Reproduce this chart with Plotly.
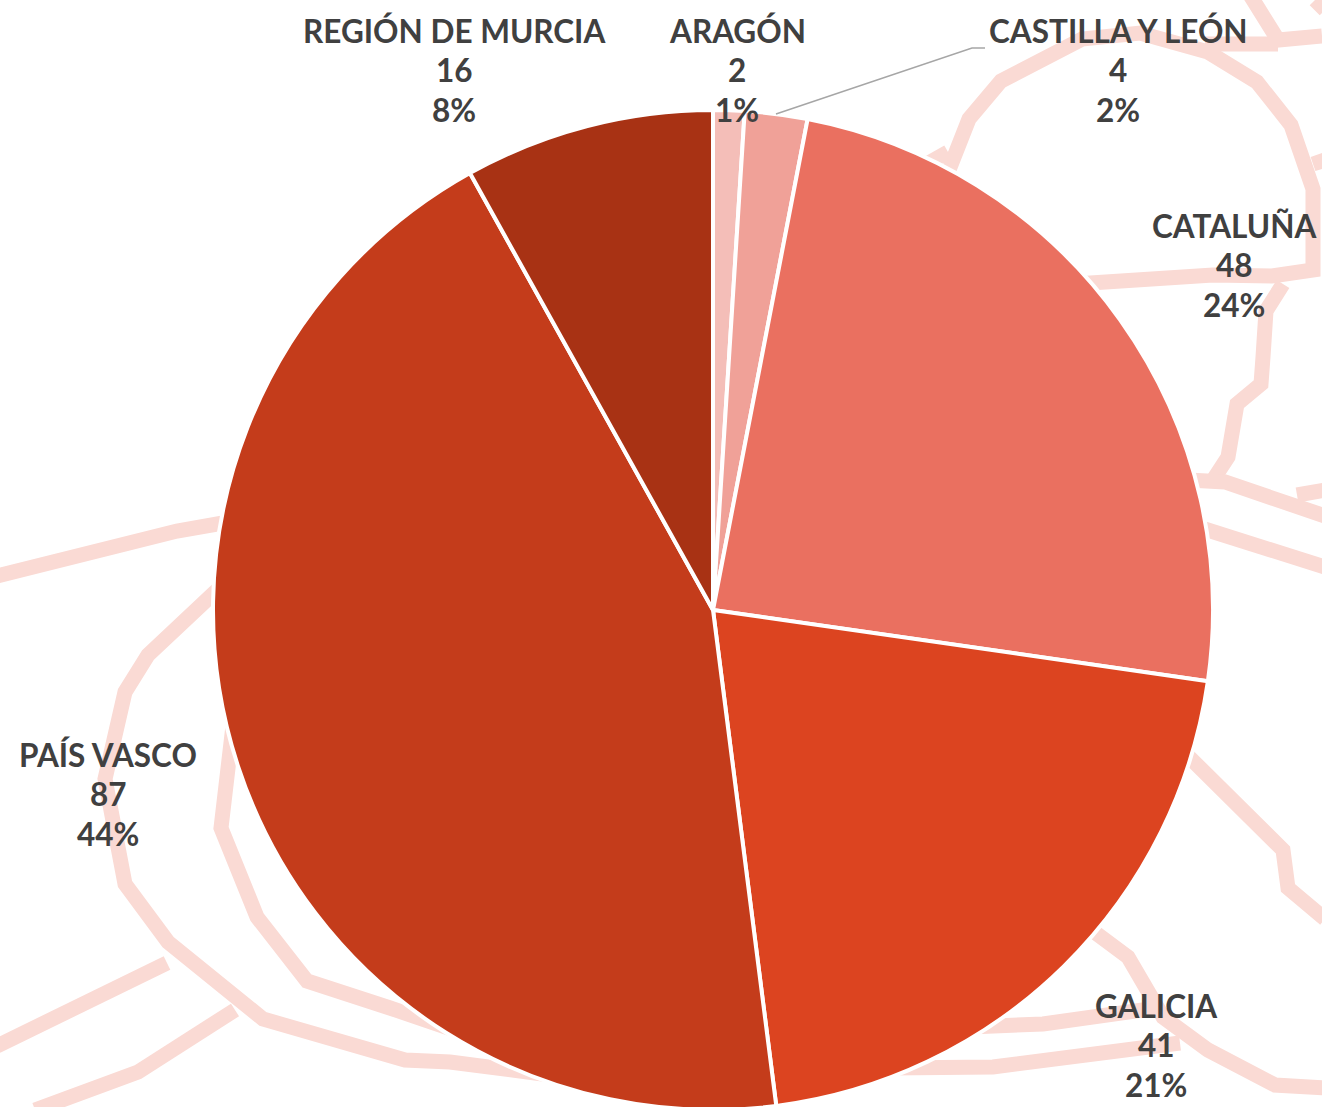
import plotly.graph_objects as go

W, H = 1322, 1113  # the page shows the top 1107 px; the pie runs just past the fold
VIEW_H = 1107

categories = ["ARAGÓN", "CASTILLA Y LEÓN", "CATALUÑA", "GALICIA", "PAÍS VASCO", "REGIÓN DE MURCIA"]
values = [2, 4, 48, 41, 87, 16]
percents = ["1%", "2%", "24%", "21%", "44%", "8%"]
colors = ["#F4BEB8", "#F0A198", "#EA7060", "#DC4420", "#C43C1B", "#A83214"]

label_x = [737, 1118, 1234, 1156, 108, 454]
label_y = [70, 70, 265, 1045, 794, 70]
line_step = 39.5

leader_x = [776, 972, 985]
leader_y = [114, 48, 48]

# decorative map outline behind the pie, in picture pixels
map_lines = [
    [(945, 180), (969, 119), (1001, 81), (1082, 39), (1140, 33), (1208, 52), (1257, 82), (1291, 125),
     (1313, 189), (1313, 270), (1272, 276), (1213, 275), (1075, 284)],
    [(925, 165), (948, 152)],
    [(1250, -5), (1278, 40), (1322, 36)],
    [(1205, 44), (1278, 44)],
    [(1315, 0), (1325, 10)],
    [(1313, 164), (1325, 160)],
    [(1283, 284), (1266, 311), (1263, 357), (1261, 384), (1237, 404), (1228, 457), (1213, 480)],
    [(1188, 480), (1225, 482), (1325, 516)],
    [(1195, 526), (1267, 547), (1325, 567)],
    [(1297, 495), (1325, 490)],
    [(-3, 576), (177, 531), (240, 520)],
    [(230, 578), (148, 655), (125, 692), (105, 779), (125, 884), (168, 942), (263, 1019), (405, 1060),
     (450, 1062), (550, 1075)],
    [(236, 700), (221, 828), (257, 917), (307, 981), (390, 1008), (460, 1032)],
    [(-3, 1046), (167, 963)],
    [(35, 1110), (138, 1072), (235, 1010)],
    [(1180, 748), (1248, 818), (1283, 850), (1288, 888), (1325, 919)],
    [(1085, 925), (1128, 957), (1163, 1017), (1208, 1050), (1275, 1085), (1325, 1088)],
    [(970, 1027), (1043, 1024), (1157, 1008)],
    [(890, 1068), (993, 1067), (1180, 1043)],
]

fig = go.Figure()

for line in map_lines:
    fig.add_trace(go.Scatter(
        x=[p[0] for p in line], y=[p[1] for p in line], mode="lines",
        line=dict(color="#FADAD4", width=15), hoverinfo="skip", showlegend=False,
    ))

fig.add_trace(go.Pie(
    labels=categories, values=values, sort=False, direction="clockwise", rotation=0,
    marker=dict(colors=colors, line=dict(color="#FFFFFF", width=4)),
    textinfo="none", showlegend=False,
    domain=dict(x=[(713 - 500) / W, (713 + 500) / W], y=[(H - 1110) / H, (H - 110) / H]),
))

for name, val, pct, lx, ly in zip(categories, values, percents, label_x, label_y):
    for k, txt in enumerate([name, val, pct]):
        fig.add_annotation(
            x=lx, y=ly + (k - 1) * line_step, xref="x", yref="y", text=f"<b>{txt}</b>",
            showarrow=False, align="center", xanchor="center", yanchor="middle",
            font=dict(family="Lato", size=31.5, color="#404040"),
        )

fig.add_shape(type="path", xref="x", yref="y", layer="above",
              path="M " + " L ".join(f"{a},{b}" for a, b in zip(leader_x, leader_y)),
              line=dict(color="#A6A6A6", width=1.5))

fig.update_layout(
    width=W, height=H, margin=dict(l=0, r=0, t=0, b=0),
    paper_bgcolor="white", plot_bgcolor="white", showlegend=False,
    xaxis=dict(range=[0, W], visible=False, fixedrange=True),
    yaxis=dict(range=[H, 0], visible=False, fixedrange=True),
)

fig.write_html(
    "out.html",
    config=dict(displayModeBar=False),
    post_script="document.body.style.margin='0';document.body.style.overflow='hidden';"
                "document.documentElement.style.overflow='hidden';",
)
